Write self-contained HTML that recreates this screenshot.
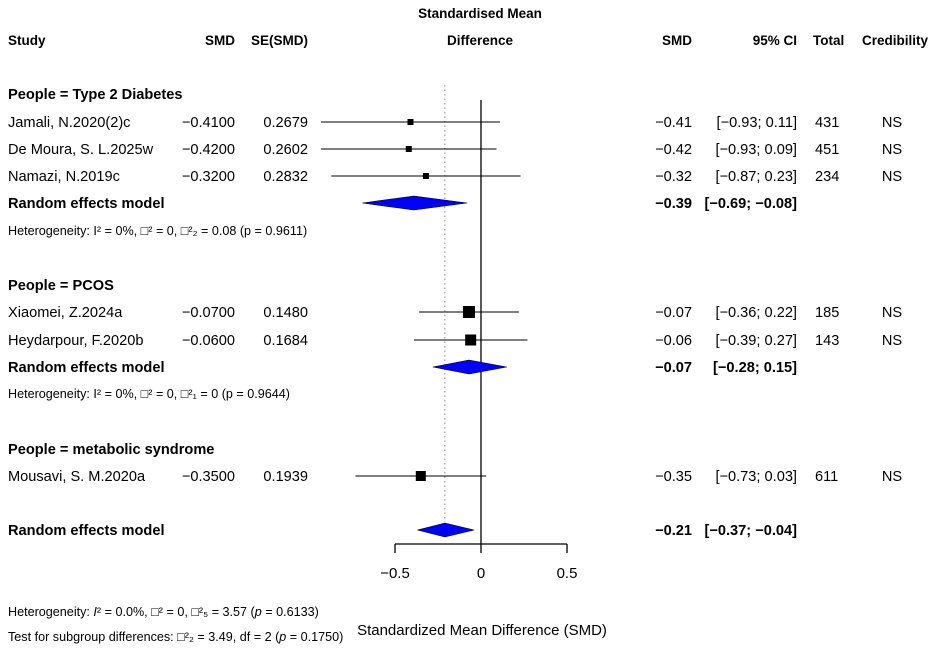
<!DOCTYPE html>
<html><head><meta charset="utf-8"><style>
body{margin:0;background:#fff}
svg{font-family:"Liberation Sans",Arial,sans-serif;font-size:14.6px}
.h{font-size:13.5px;font-weight:bold}
.b{font-weight:bold}
.s{font-size:12.6px}
</style></head><body>
<svg id="c" width="935" height="655">
<g class="h">
<text x="8" y="45">Study</text>
<text x="235" y="45" text-anchor="end">SMD</text>
<text x="308" y="45" text-anchor="end">SE(SMD)</text>
<text x="480" y="18" text-anchor="middle">Standardised Mean</text>
<text x="480" y="45" text-anchor="middle">Difference</text>
<text x="692" y="45" text-anchor="end">SMD</text>
<text x="797" y="45" text-anchor="end">95% CI</text>
<text x="813" y="45">Total</text>
<text x="928" y="45" text-anchor="end">Credibility</text>
</g>
<g id="rows"></g>
<g id="axis"></g>
<text x="8" y="616" class="s">Heterogeneity: <tspan font-style="italic">I</tspan>² = 0.0%, □² = 0, □²₅ = 3.57 (<tspan font-style="italic">p</tspan> = 0.6133)</text>
<text x="8" y="641" class="s">Test for subgroup differences: □²₂ = 3.49, df = 2 (<tspan font-style="italic">p</tspan> = 0.1750)</text>
<text x="482" y="635" text-anchor="middle" font-size="15">Standardized Mean Difference (SMD)</text>
</svg>
<script>
const NS='http://www.w3.org/2000/svg';
const studies=['Jamali, N.2020(2)c','De Moura, S. L.2025w','Namazi, N.2019c','Xiaomei, Z.2024a','Heydarpour, F.2020b','Mousavi, S. M.2020a'];
const smd=[-0.41,-0.42,-0.32,-0.07,-0.06,-0.35];
const se=['−0.4100','−0.4200','−0.3200','−0.0700','−0.0600','−0.3500'];
const seVal=['0.2679','0.2602','0.2832','0.1480','0.1684','0.1939'];
const lo=[-0.93,-0.93,-0.87,-0.36,-0.39,-0.73];
const hi=[0.11,0.09,0.23,0.22,0.27,0.03];
const totals=[431,451,234,185,143,611];
const sizes=[6,6,6,12,11,10];
const rowY=[122,149,176,312,340,476];
const poolEst=[-0.39,-0.07,-0.21];
const poolLo=[-0.69,-0.28,-0.37];
const poolHi=[-0.08,0.15,-0.04];
const poolY=[203,367,530];
const ticks=[-0.5,0,0.5];
const xs=v=>481+v*172;
const rows=document.getElementById('rows'),ax=document.getElementById('axis');
function el(t,a,p,txt){const e=document.createElementNS(NS,t);for(const k in a)e.setAttribute(k,a[k]);if(txt!==undefined)e.textContent=txt;p.appendChild(e);return e;}
const f=v=>(v<0?'−':'')+Math.abs(v).toFixed(2);
[['People = Type 2 Diabetes',94],['People = PCOS',285],['People = metabolic syndrome',449]].forEach(g=>{
 const t=el('text',{x:8,y:g[1]+5,class:'b'},rows,g[0]);
 
 
});
[['Heterogeneity: I² = 0%, □² = 0, □²₂ = 0.08 (p = 0.9611)',235],['Heterogeneity: I² = 0%, □² = 0, □²₁ = 0 (p = 0.9644)',398]].forEach(h=>{
 const t=el('text',{x:8,y:h[1],class:'s'},rows,h[0]);
 
 
});
el('line',{x1:xs(0),x2:xs(0),y1:100,y2:544,stroke:'#000','stroke-width':1.3},rows);
el('line',{x1:xs(-0.21),x2:xs(-0.21),y1:85,y2:522,stroke:'#888','stroke-dasharray':'1.5,3'},rows);
studies.forEach((s,i)=>{
 const y=rowY[i];
 const g=el('g',{},rows);
 
 
 el('text',{x:8,y:y+5},g,s);
 el('text',{x:235,y:y+5,'text-anchor':'end'},g,se[i]);
 el('text',{x:308,y:y+5,'text-anchor':'end'},g,seVal[i]);
 el('line',{x1:xs(lo[i]),x2:xs(hi[i]),y1:y,y2:y,stroke:'#000'},g);
 const r=el('rect',{x:xs(smd[i])-sizes[i]/2,y:y-sizes[i]/2,width:sizes[i],height:sizes[i],fill:'#000'},g);
 
 
 el('text',{x:692,y:y+5,'text-anchor':'end'},g,f(smd[i]));
 el('text',{x:797,y:y+5,'text-anchor':'end'},g,'['+f(lo[i])+'; '+(hi[i]<0?'':' ')+f(hi[i])+']');
 el('text',{x:815,y:y+5},g,totals[i]);
 el('text',{x:892,y:y+5,'text-anchor':'middle'},g,'NS');
});
poolEst.forEach((e,i)=>{
 const y=poolY[i];
 const g=el('g',{},rows);
 
 
 el('text',{x:8,y:y+5,class:'b'},g,'Random effects model');
 const d=el('polygon',{points:`${xs(poolLo[i])},${y} ${xs(e)},${y-7} ${xs(poolHi[i])},${y} ${xs(e)},${y+7}`,fill:'#0000ff',stroke:'#000','stroke-width':0.6},g);
 
 
 el('text',{x:692,y:y+5,'text-anchor':'end',class:'b'},g,f(e));
 el('text',{x:797,y:y+5,'text-anchor':'end',class:'b'},g,'['+f(poolLo[i])+'; '+(poolHi[i]<0?'':' ')+f(poolHi[i])+']');
});
el('line',{x1:xs(ticks[0]),x2:xs(ticks[ticks.length-1]),y1:544,y2:544,stroke:'#000','stroke-width':1.3},ax);
ticks.forEach(t=>{
 el('line',{x1:xs(t),x2:xs(t),y1:544,y2:553,stroke:'#000','stroke-width':1.3},ax);
 const l=el('text',{x:xs(t),y:578,'text-anchor':'middle','font-size':15},ax,(t<0?'−':'')+Math.abs(t));
 
 
});
</script>
</body></html>
